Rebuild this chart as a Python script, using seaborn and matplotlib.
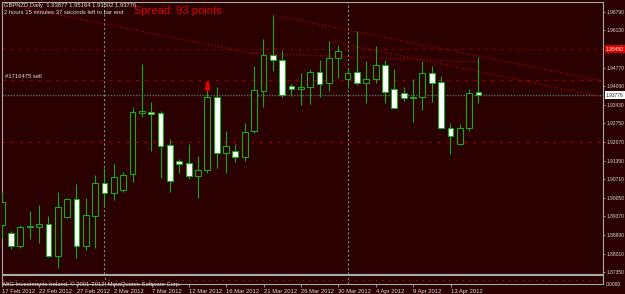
import numpy as np
import pandas as pd
import matplotlib
matplotlib.use("Agg")
import matplotlib.pyplot as plt
import matplotlib.transforms as mtransforms
import seaborn as sns

# ---------------- data ----------------
opens = [1.89052, 1.88772, 1.88299, 1.88968, 1.88990, 1.89077, 1.87935, 1.89332, 1.89986, 1.88299,
         1.89390, 1.90590, 1.90226, 1.90325, 1.90895, 1.93136, 1.93172, 1.93114, 1.91961, 1.91368,
         1.91296, 1.90834, 1.91052, 1.93717, 1.91681, 1.91743, 1.91536, 1.92470, 1.93936, 1.95234,
         1.95063, 1.94096, 1.93986, 1.94059, 1.94605, 1.94205, 1.95114, 1.94350, 1.94605, 1.94205,
         1.94350, 1.94870, 1.93986, 1.93841, 1.93659, 1.93696, 1.94568, 1.94241, 1.92568, 1.91997,
         1.92568, 1.93877]
highs = [1.90263, 1.88834, 1.89063, 1.89561, 1.89779, 1.89379, 1.90241, 1.90045, 1.90532, 1.90023,
         1.90870, 1.91114, 1.91259, 1.90990, 1.93354, 1.94896, 1.93536, 1.93208, 1.92179, 1.91452,
         1.91986, 1.91572, 1.93961, 1.94059, 1.92481, 1.91997, 1.92750, 1.94834, 1.95805, 1.96688,
         1.95416, 1.94179, 1.94568, 1.94725, 1.95052, 1.95743, 1.95597, 1.94761, 1.96117, 1.95016,
         1.95561, 1.95052, 1.94725, 1.94081, 1.94350, 1.95026, 1.94834, 1.94470, 1.92750, 1.92725,
         1.93986, 1.95164]
lows = [1.88568, 1.88179, 1.88226, 1.88543, 1.88408, 1.87899, 1.87477, 1.89314, 1.87863, 1.88143,
        1.88226, 1.89754, 1.89961, 1.90252, 1.90605, 1.92990, 1.91754, 1.90750, 1.90263, 1.90954,
        1.90725, 1.90045, 1.90954, 1.91135, 1.90932, 1.91354, 1.91390, 1.92397, 1.93332, 1.94663,
        1.93696, 1.93754, 1.93416, 1.93452, 1.93717, 1.93936, 1.94408, 1.94034, 1.94143, 1.93477,
        1.94205, 1.93499, 1.93306, 1.93572, 1.92786, 1.93234, 1.93536, 1.92532, 1.91634, 1.91950,
        1.92470, 1.93502]
closes = [1.89899, 1.88299, 1.88979, 1.89026, 1.89077, 1.87935, 1.89706, 1.89986, 1.88299, 1.89415,
          1.90590, 1.90226, 1.90786, 1.90870, 1.93150, 1.93197, 1.93088, 1.91935, 1.90663, 1.91259,
          1.90834, 1.91041, 1.93696, 1.91681, 1.91925, 1.91536, 1.92434, 1.93961, 1.95234, 1.95052,
          1.93790, 1.93997, 1.94059, 1.94605, 1.94190, 1.95136, 1.95368, 1.94568, 1.94205, 1.94350,
          1.94870, 1.93899, 1.93317, 1.93659, 1.93706, 1.94568, 1.94226, 1.92568, 1.92299, 1.92568,
          1.93841, 1.93776]

date_labels = ["17 Feb 2012", "22 Feb 2012", "27 Feb 2012", "2 Mar 2012", "7 Mar 2012",
               "12 Mar 2012", "16 Mar 2012", "21 Mar 2012", "26 Mar 2012", "30 Mar 2012",
               "4 Apr 2012", "9 Apr 2012", "13 Apr 2012"]
date_label_bars = [0, 4, 8, 12, 16, 20, 24, 28, 32, 36, 40, 44, 48]
separator_bars = [11, 37]

price_ticks = [1.96790, 1.96130, 1.94770, 1.94090, 1.93430, 1.92750, 1.92070,
               1.91390, 1.90710, 1.90050, 1.89370, 1.88690, 1.88010, 1.87350]
bid_price = 1.93776
stop_price = 1.95450
order_price = 1.94314
target_price = 1.92059
sell_bar = 22
sell_arrow_price = 1.94106

# trend lines: (bar index, price) start/end
trend_a = ([29, 66], [1.96688, 1.94172])
trend_b = ([35, 66], [1.95743, 1.93589])
trend_c = ([2.5, 27.1], [1.96943, 1.95270])
trend_d = ([26.56, 51.16], [1.95306, 1.94979])

header1 = "GBPNZD,Daily  1.93877 1.95164 1.93502 1.93776"
header2 = "2 hours 15 minutes 37 seconds left to bar end"
spread_text = "Spread: 93 points"
order_text = "#1716475 sell"
copyright_text = "MIG Investments Ireland, \u00a9 2001-2012, MetaQuotes Software Corp."

df = pd.DataFrame({"open": opens, "high": highs, "low": lows, "close": closes})
df["bar"] = np.arange(len(df))
df["bull"] = df["close"] >= df["open"]

# ---------------- style ----------------
BG = "#2a0000"
GREEN = "#19a819"
FRAME = "#a8a8a8"
TXT = "#dcdcdc"
RFS = 3.5  # right-axis label font size

sns.set_theme(style="dark", rc={"axes.facecolor": BG, "figure.facecolor": BG,
                                "savefig.facecolor": BG, "axes.edgecolor": FRAME,
                                "axes.grid": False})
plt.rcParams["font.family"] = ["Liberation Sans", "DejaVu Sans"]

W, H = 625, 294
fig = plt.figure(figsize=(W / 100, H / 100), dpi=100)


def fx(x):
    return x / W


def fy(y):
    return 1 - y / H


ax = fig.add_axes([fx(2), fy(274), fx(601), 272 / H])
sub = fig.add_axes([fx(2), fy(284), fx(601), 9 / H])

XMIN, XMAX = 0.037, 64.32
YMIN, YMAX = 1.8727, 1.97161

# wicks
ax.vlines(df["bar"], df["low"], df["high"], color=GREEN, lw=0.8, zorder=3)
# bodies
body_h = (df["close"] - df["open"]).abs().clip(lower=0.00003)
body_b = np.minimum(df["open"], df["close"])
face = np.where(df["bull"], BG, "white")
ax.bar(df["bar"], body_h, bottom=body_b, width=0.62, color=face,
       edgecolor=GREEN, linewidth=0.8, zorder=4)

# horizontal lines
ax.axhline(bid_price, color="#4f6a6a", lw=1.0, ls=(0, (1, 1)), zorder=2)
ax.axhline(stop_price, color="#7a0000", lw=0.8, ls=(0, (3, 4)), zorder=1)
ax.axhline(order_price, color="#8e0000", lw=0.8, ls=(0, (3, 5)), zorder=1)
ax.axhline(target_price, color="#c00000", lw=0.8, ls=(0, (2, 6)), zorder=1)

# trend lines
for tx, ty in (trend_a, trend_b, trend_c, trend_d):
    ax.plot(tx, ty, color="#c00000", lw=0.8, ls=(0, (1, 2)), zorder=2)

# period separators
for sb in separator_bars:
    for a in (ax, sub):
        a.axvline(sb, color="#7a8a90", lw=0.8, ls=(0, (2, 2)), zorder=2)

# sell arrow
ax.plot([sell_bar], [sell_arrow_price], marker=r"$\Downarrow$", color="#e00000",
        markersize=6, zorder=5)

ax.set_xlim(XMIN, XMAX)
ax.set_ylim(YMIN, YMAX)
ax.set_xticks([])
ax.yaxis.tick_right()
ax.set_yticks(price_ticks)
ax.set_yticklabels([f"{p:.5f}" for p in price_ticks])
ax.tick_params(axis="y", which="both", right=True, length=1.5, width=0.6,
               color=FRAME, labelcolor=TXT, labelsize=RFS, pad=1.0)
for s in ax.spines.values():
    s.set_color(FRAME)
    s.set_linewidth(0.8)

blend = mtransforms.blended_transform_factory(ax.transAxes, ax.transData)
ax.text(1 + 3 / 601, stop_price, f"{stop_price:.5f}", transform=blend, ha="left",
        va="center", color="white", fontsize=RFS,
        bbox=dict(boxstyle="square,pad=0.25", fc="#e00000", ec="none"), clip_on=False)
ax.text(1 + 3 / 601, bid_price, f"{bid_price:.5f}", transform=blend, ha="left",
        va="center", color="#202020", fontsize=RFS,
        bbox=dict(boxstyle="square,pad=0.25", fc="white", ec="none"), clip_on=False)

ax.text(0.36, 1.9447, order_text, color=TXT, fontsize=4.2, ha="left", va="center", zorder=6)

# sub window
sub.set_xlim(XMIN, XMAX)
sub.set_ylim(-1, 1)
sub.axhline(0, color="#b02020", lw=0.8, ls=(0, (1, 5)), zorder=1)
sub.set_yticks([])
sub.set_xticks(date_label_bars)
sub.set_xticklabels(date_labels)
offset = mtransforms.ScaledTranslation(2 / 100, 0, fig.dpi_scale_trans)
for lbl in sub.get_xticklabels():
    lbl.set_horizontalalignment("left")
    lbl.set_transform(lbl.get_transform() + offset)
sub.tick_params(axis="x", length=2.5, width=0.6, color=FRAME, labelcolor=TXT,
                labelsize=4.2, pad=1.0, direction="out", bottom=True)
for s in sub.spines.values():
    s.set_color(FRAME)
    s.set_linewidth(0.8)
sub.text(0.002, 0.0, copyright_text, transform=sub.transAxes, color=TXT,
         fontsize=4.2, ha="left", va="center")
sub.text(1 + 3 / 601, 0.0, "0.0000", transform=sub.transAxes, color=TXT,
         fontsize=RFS, ha="left", va="center", clip_on=False)

# header texts
fig.text(fx(4), fy(5.7), header1, color=TXT, fontsize=4.2, ha="left", va="center")
fig.text(fx(4), fy(12.3), header2, color=TXT, fontsize=4.2, ha="left", va="center")
fig.text(fx(134), fy(10.5), spread_text, color="#e00000", fontsize=8, ha="left", va="center")

fig.savefig("out.png", dpi=100, facecolor=BG)
